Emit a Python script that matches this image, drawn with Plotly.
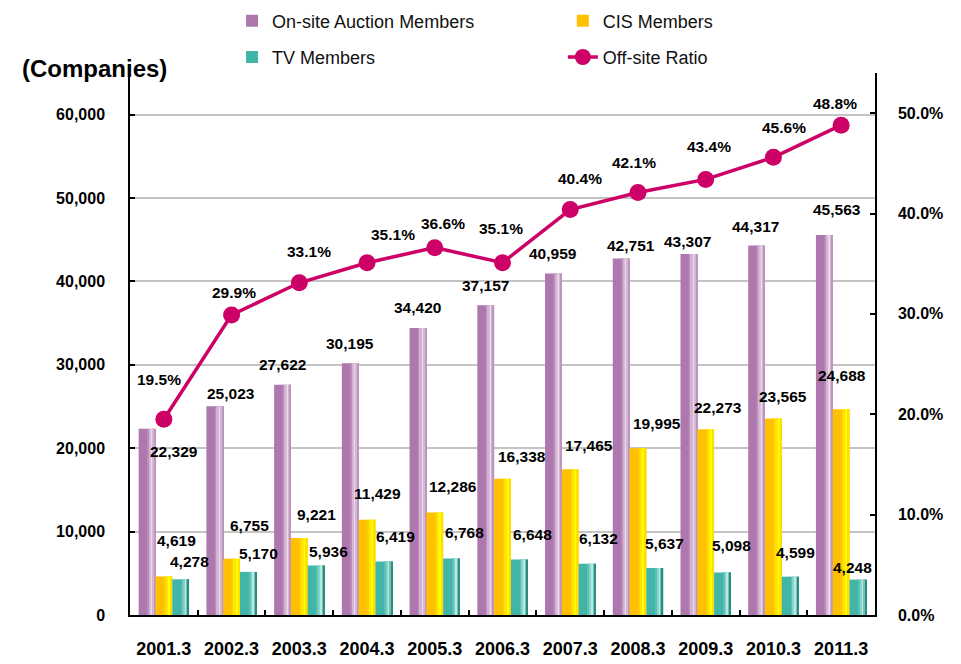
import plotly.graph_objects as go

# ---- data -------------------------------------------------------------
periods = ["2001.3", "2002.3", "2003.3", "2004.3", "2005.3", "2006.3",
           "2007.3", "2008.3", "2009.3", "2010.3", "2011.3"]
onsite_members = [22329, 25023, 27622, 30195, 34420, 37157,
                  40959, 42751, 43307, 44317, 45563]
cis_members = [4619, 6755, 9221, 11429, 12286, 16338,
               17465, 19995, 22273, 23565, 24688]
tv_members = [4278, 5170, 5936, 6419, 6768, 6648,
              6132, 5637, 5098, 4599, 4248]
offsite_ratio = [19.5, 29.9, 33.1, 35.1, 36.6, 35.1,
                 40.4, 42.1, 43.4, 45.6, 48.8]

# ---- label nudges (px): (dx, dy) relative to bar top / marker -----------
onsite_nudge = [(27, -23), (16, 13), (0, 20), (0, 20), (0, 20), (0, 20),
                (0, 20), (10, 13), (-1, 12), (-1, 19), (13, 26)]
cis_nudge = [(13, 36), (18, 33), (17, 24), (10, 26), (18, 26), (19, 22),
             (19, 24), (19, 25), (12, 22), (10, 22), (1, 34)]
tv_nudge = [(9, 18), (10, 18), (12, 14), (12, 25), (13, 26), (13, 25),
            (11, 25), (10, 25), (9, 27), (5, 24), (-5, 12)]
ratio_nudge = [(-5, 40), (2, 22), (10, 31), (26, 28), (8, 24), (-2, 34),
               (10, 31), (-4, 30), (3, 33), (11, 30), (-6, 22)]

BAR_W = 0.248
FONT = "Liberation Sans, Arial, sans-serif"
LINE_COLOR = "#CC0066"

# series: name, values, offset, base colour, shading stripes (from, to, colour)
series = [
    ("On-site Auction Members", onsite_members, -1.5 * BAR_W, "#AE78AE",
     [(0.50, 0.62, "#BC8EBC"), (0.62, 0.72, "#D3B3D3"), (0.72, 0.84, "#EBDAEB"),
      (0.84, 0.93, "#D6B6D6"), (0.93, 1.0, "#BF94BF")], "legend"),
    ("CIS Members", cis_members, -0.5 * BAR_W, "#FFC000",
     [(0.52, 0.64, "#FFD000"), (0.64, 0.74, "#FFE600"), (0.74, 0.88, "#FFFF00"),
      (0.88, 1.0, "#FFE000")], "legend2"),
    ("TV Members", tv_members, 0.5 * BAR_W, "#40B5A8",
     [(0.55, 0.66, "#5BC1B5"), (0.66, 0.76, "#86D3CA"), (0.76, 0.86, "#BCE8E2"),
      (0.86, 0.93, "#6FC4BA"), (0.93, 1.0, "#2C8C82")], "legend3"),
]

fig = go.Figure()
annotations = []

for name, vals, off, base, stripes, leg in series:
    fig.add_trace(go.Bar(
        x=periods, y=vals, name=name, width=BAR_W, offset=off,
        marker=dict(color=base, line=dict(width=0)), opacity=1,
        legend=leg, hovertemplate="%{x}: %{y:,}<extra>" + name + "</extra>",
    ))
    for s, e, col in stripes:
        fig.add_trace(go.Bar(
            x=periods, y=vals, width=BAR_W * (e - s), offset=off + BAR_W * s,
            marker=dict(color=col, line=dict(width=0)), opacity=1,
            showlegend=False, hoverinfo="skip",
        ))

fig.add_trace(go.Scatter(
    x=periods, y=offsite_ratio, name="Off-site Ratio", yaxis="y2",
    mode="lines+markers", legend="legend4",
    line=dict(color=LINE_COLOR, width=3.5),
    marker=dict(color=LINE_COLOR, size=17),
    hovertemplate="%{x}: %{y:.1f}%<extra></extra>",
))

label_font = dict(family=FONT, size=15.5, color="#000000", weight=700)

for (name, vals, off, *_), nudges in zip(series, [onsite_nudge, cis_nudge, tv_nudge]):
    for i, (v, (dx, dy)) in enumerate(zip(vals, nudges)):
        annotations.append(dict(
            x=i + off + BAR_W / 2, y=v, xref="x", yref="y",
            text=f"{v:,}", showarrow=False, xanchor="center", yanchor="middle",
            xshift=dx, yshift=dy, font=label_font,
        ))

for i, (r, (dx, dy)) in enumerate(zip(offsite_ratio, ratio_nudge)):
    annotations.append(dict(
        x=i, y=r, xref="x", yref="y2", text=f"{r:.1f}%", showarrow=False,
        xanchor="center", yanchor="middle", xshift=dx, yshift=dy, font=label_font,
    ))

annotations.append(dict(
    x=-0.147, y=1.009, xref="paper", yref="paper", text="(Companies)",
    showarrow=False, xanchor="left", yanchor="middle",
    font=dict(family=FONT, size=24, color="#000000", weight=700),
))

legend_style = dict(font=dict(family=FONT, size=18, color="#111111"),
                    bgcolor="rgba(0,0,0,0)", borderwidth=0,
                    xanchor="left", yanchor="middle", orientation="h")

fig.update_layout(
    width=961, height=664,
    margin=dict(l=130, r=86, t=73, b=49, autoexpand=False),
    paper_bgcolor="white", plot_bgcolor="white",
    barmode="overlay",
    annotations=annotations,
    showlegend=True,
    legend=dict(x=0.137, y=1.096, **legend_style),
    legend2=dict(x=0.581, y=1.096, **legend_style),
    legend3=dict(x=0.137, y=1.029, **legend_style),
    legend4=dict(x=0.581, y=1.029, **legend_style),
    xaxis=dict(
        type="category", range=[-0.5, 10.5], tickson="boundaries",
        ticks="inside", ticklen=5, tickcolor="#000000", tickwidth=1.5,
        showline=True, linecolor="#000000", linewidth=1.5,
        showgrid=False, zeroline=False, ticklabelstandoff=17, automargin=False,
        tickfont=dict(family=FONT, size=18, color="#000000", weight=700),
    ),
    yaxis=dict(
        range=[0, 65000], dtick=10000, tickformat=",",
        showgrid=True, gridcolor="#C4C4C4", gridwidth=1.5, zeroline=False,
        showline=True, linecolor="#000000", linewidth=1.5,
        ticks="inside", ticklen=5, tickcolor="#000000", tickwidth=1.5,
        ticklabelstandoff=20, automargin=False,
        tickfont=dict(family=FONT, size=16, color="#000000", weight=700),
    ),
    yaxis2=dict(
        overlaying="y", side="right", range=[0, 54], dtick=10,
        tickformat=".1f", ticksuffix="%",
        showgrid=False, zeroline=False,
        showline=True, linecolor="#000000", linewidth=1.5,
        ticks="inside", ticklen=5, tickcolor="#000000", tickwidth=1.5,
        ticklabelstandoff=18, automargin=False,
        tickfont=dict(family=FONT, size=16, color="#000000", weight=700),
    ),
)

fig.write_html("out.html")
